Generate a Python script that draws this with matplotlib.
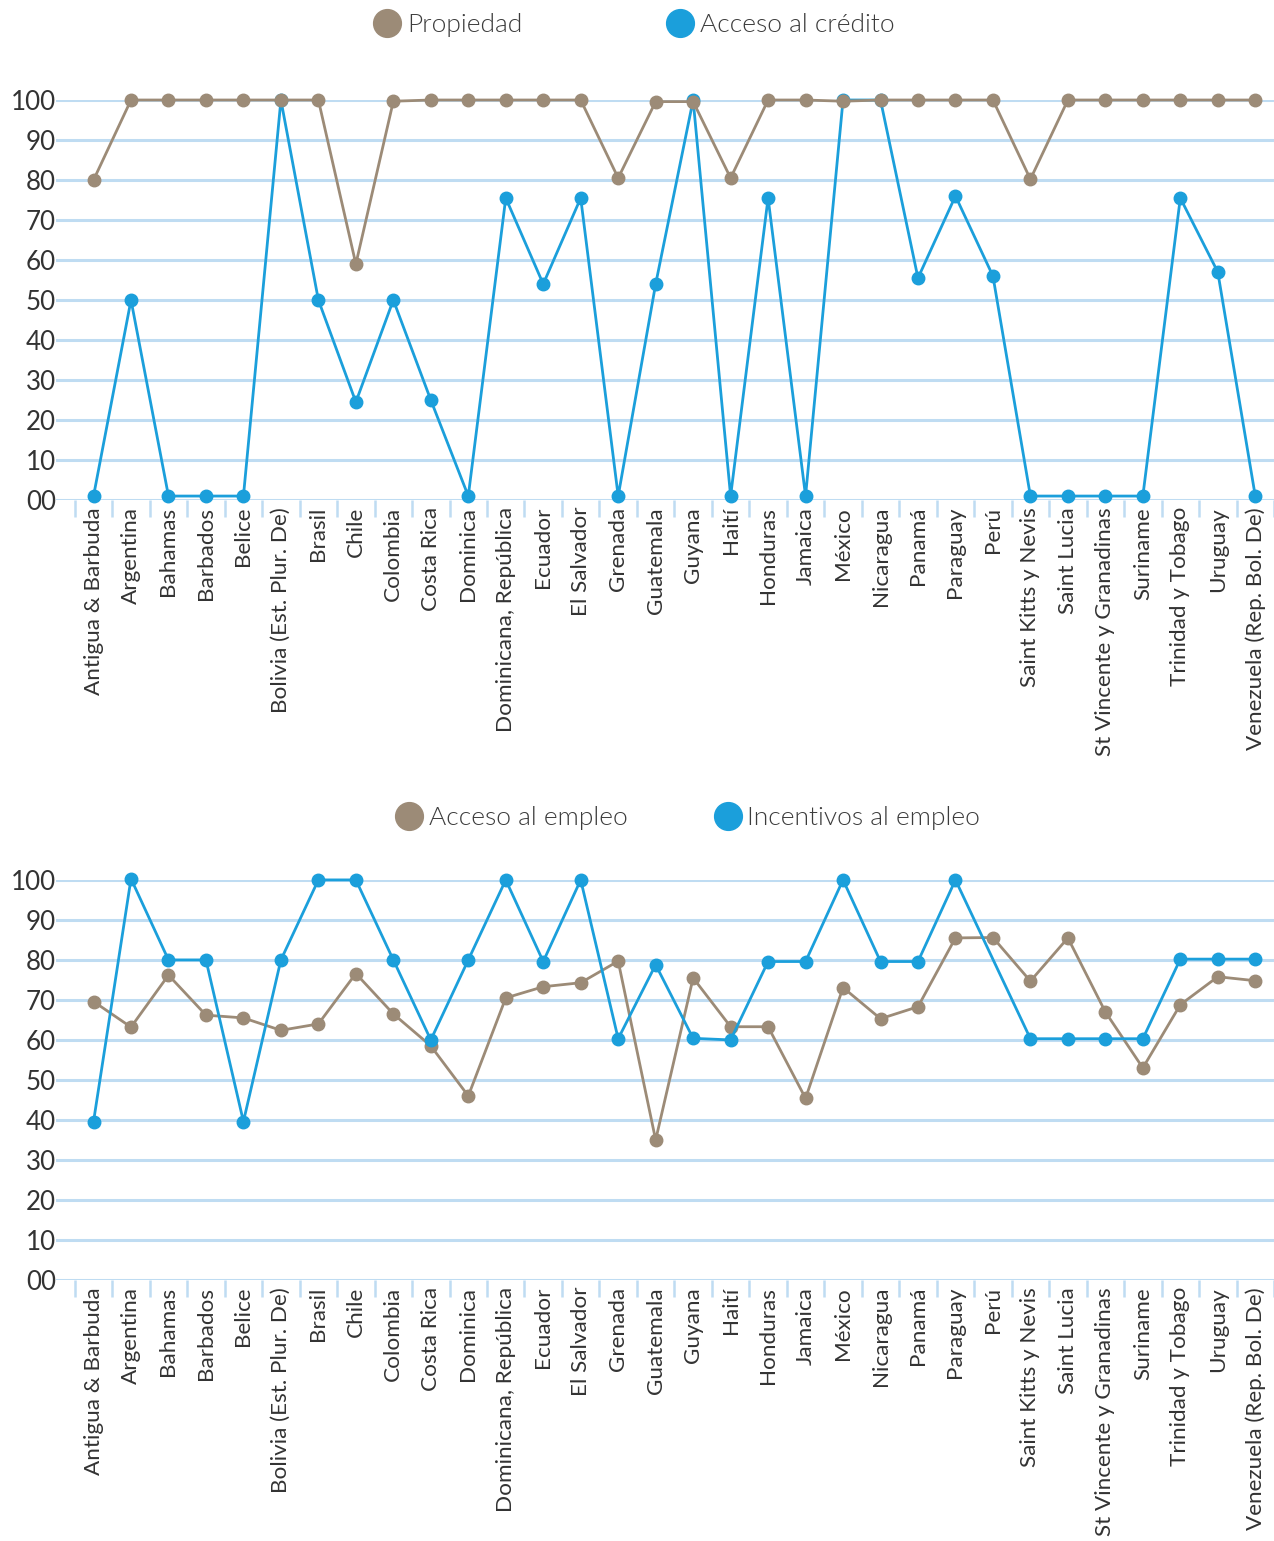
import numpy as np
import matplotlib.pyplot as plt
from matplotlib.lines import Line2D

plt.rcParams['font.family'] = ['Lato', 'DejaVu Sans']

# Datos
paises = ["Antigua & Barbuda", "Argentina", "Bahamas", "Barbados", "Belice",
          "Bolivia (Est. Plur. De)", "Brasil", "Chile", "Colombia", "Costa Rica",
          "Dominica", "Dominicana, República", "Ecuador", "El Salvador", "Grenada",
          "Guatemala", "Guyana", "Haití", "Honduras", "Jamaica", "México",
          "Nicaragua", "Panamá", "Paraguay", "Perú", "Saint Kitts y Nevis",
          "Saint Lucia", "St Vincente y Granadinas", "Suriname",
          "Trinidad y Tobago", "Uruguay", "Venezuela (Rep. Bol. De)"]

propiedad = [80, 100, 100, 100, 100, 100, 100, 59, 99.7, 100,
             100, 100, 100, 100, 80.5, 99.6, 99.6, 80.5, 100, 100,
             99.7, 100, 100, 100, 100, 80.2, 100, 100, 100, 100,
             100, 100]
credito = [1, 50, 1, 1, 1, 100, 50, 24.5, 50, 25,
           1, 75.5, 54, 75.5, 1, 54, 100, 1, 75.5, 1,
           100, 100, 55.5, 76, 56, 1, 1, 1, 1, 75.5,
           57, 1]

acceso_empleo = [69.6, 63.2, 76.2, 66.2, 65.5, 62.4, 64, 76.6, 66.5, 58.5,
                 46, 70.5, 73.3, 74.3, 79.7, 35, 75.5, 63.3, 63.3, 45.4,
                 73.1, 65.3, 68.3, 85.5, 85.6, 74.7, 85.5, 67, 53, 68.8,
                 75.8, 74.8]
incentivos = [39.6, 100.3, 80, 80, 39.6, 80, 100, 100, 80, 60,
              80, 100, 79.6, 100, 60.3, 78.8, 60.4, 60, 79.6, 79.6,
              100, 79.6, 79.6, 100, np.nan, 60.3, 60.3, 60.3, 60.3, 80.2,
              80.2, 80.2]

cafe = "#9c8b77"
azul = "#1b9fdb"
grid_color = "#bfdcf2"
texto = "#333333"

fig = plt.figure(figsize=(12.74, 15.41), dpi=100)


def dibujar(ax, serie_a, serie_b, a_arriba):
    x = np.arange(len(paises))
    for serie, color, z in [(serie_a, cafe, 3 if a_arriba else 2),
                            (serie_b, azul, 2 if a_arriba else 3)]:
        y = np.array(serie, dtype=float)
        ok = ~np.isnan(y)
        ax.plot(x[ok], y[ok], color=color, lw=2.0, marker="o", ms=9,
                zorder=z, clip_on=False)

    ax.set_xlim(-1.0, len(paises) - 0.5)
    ax.set_ylim(0, 100)
    ax.set_yticks(range(0, 101, 10))
    ax.set_yticklabels(["00"] + [str(v) for v in range(10, 101, 10)])
    for v in range(0, 101, 10):
        ax.axhline(v, color=grid_color, lw=2.2, zorder=1)

    ax.set_xticks(x)
    ax.set_xticklabels(paises, rotation=90, fontsize=16.2, color=texto)
    ax.set_xticks(np.arange(-0.5, len(paises)), minor=True)
    ax.tick_params(axis="x", which="major", length=0, pad=5)
    ax.tick_params(axis="x", which="minor", length=12, width=1.8,
                   color=grid_color, direction="out")
    ax.tick_params(axis="y", length=0, pad=0, labelsize=18.7, labelcolor=texto)
    for s in ax.spines.values():
        s.set_visible(False)


def leyenda(nombres, y, x, sep):
    handles = [Line2D([], [], ls="none", marker="o", ms=20, color=c)
               for c in (cafe, azul)]
    fig.legend(handles, nombres, loc="center", bbox_to_anchor=(x, y),
               ncol=2, frameon=False, handlelength=0.8, handletextpad=0.35,
               columnspacing=sep, prop={"size": 19, "weight": 300},
               labelcolor="#3c3c3c")


ax1 = fig.add_axes([0.044, 0.6755, 0.956, 0.2596])
dibujar(ax1, propiedad, credito, True)
leyenda(["Propiedad", "Acceso al crédito"], 0.9835, 0.499, 5.6)

ax2 = fig.add_axes([0.044, 0.1694, 0.956, 0.2596])
dibujar(ax2, acceso_empleo, incentivos, False)
leyenda(["Acceso al empleo", "Incentivos al empleo"], 0.4692, 0.541, 3.4)

fig.savefig("out.png", dpi=100)
